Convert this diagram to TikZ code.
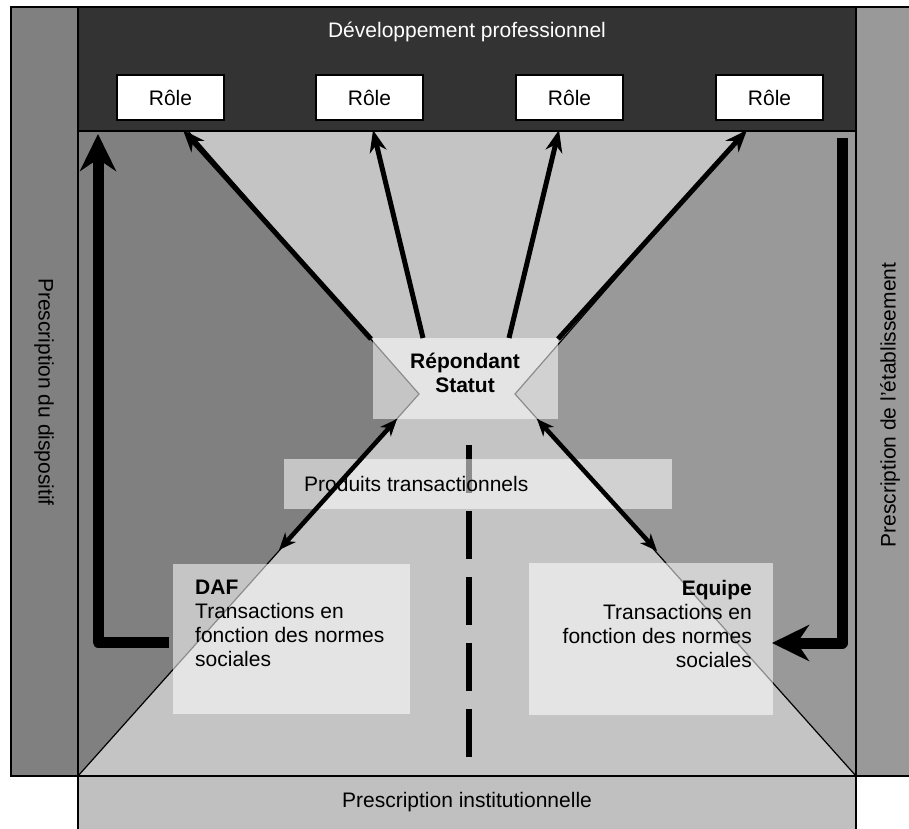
\documentclass[tikz,border=0pt]{standalone}
\usepackage{fontspec}
\setmainfont{Liberation Sans}
\usetikzlibrary{arrows.meta}
\definecolor{leftgray}{HTML}{808080}
\definecolor{rightgray}{HTML}{999999}
\definecolor{bandgray}{HTML}{333333}
\definecolor{lightgray}{HTML}{C4C4C4}
\definecolor{barlight}{HTML}{C0C0C0}
\begin{document}
\begin{tikzpicture}[x=1pt,y=-1pt,
  font=\fontsize{21}{24}\selectfont,
  frame/.style={draw=black, line width=1.3pt},
  role/.style={draw=black, line width=1.3pt, fill=white, minimum width=107pt, minimum height=45pt, inner sep=0pt, text height=15pt, text depth=0pt},
  tbox/.style={fill=white, fill opacity=0.55, text opacity=1, inner sep=0pt},
  thinarrow/.style={line width=5pt, -{Stealth[length=22pt,width=17pt,inset=7pt]}},
  twoarrow/.style={line width=4.5pt, {Stealth[length=17pt,width=14pt,inset=5pt]}-{Stealth[length=17pt,width=14pt,inset=5pt]}},
  thickarrow/.style={line width=11pt, line join=round, -{Stealth[length=37pt,width=36pt,inset=12pt]}},
  centerdash/.style={line width=6pt, dash pattern=on 48pt off 18pt}
]
\useasboundingbox (0,0) rectangle (909,828);
\fill[white] (0,0) rectangle (909,828);
% side bars
\draw[frame, fill=leftgray] (11,7) rectangle (78,776);
\draw[frame, fill=rightgray] (856,7) rectangle (914,776);
\node[rotate=-90] (lefttxt) at (44,392) {Prescription du dispositif};
\node[rotate=90] (righttxt) at (890,405) {Prescription de l’établissement};
% main area backgrounds
\fill[leftgray] (78,131) rectangle (467,776);
\fill[rightgray] (467,131) rectangle (856,776);
\coordinate (tl) at (188,131);
\coordinate (apL) at (419,394);
\coordinate (bl) at (78,776);
\coordinate (br) at (856,776);
\coordinate (apR) at (515,394);
\coordinate (tr) at (744,131);
\draw[fill=lightgray, line width=1.2pt] (tl) -- (apL) -- (bl) -- (br) -- (apR) -- (tr) -- cycle;
% centre dashed line
\coordinate (dtop) at (469,445);
\coordinate (dbot) at (469,776);
\draw[centerdash] (dtop) -- (dbot);
% top band
\draw[frame, fill=bandgray] (78,7) rectangle (856,131);
\node[anchor=base, text=white] (title) at (467,37) {Développement professionnel};
\node[role] (r1) at (170.5,97.5) {Rôle};
\node[role] (r2) at (369.5,97.5) {Rôle};
\node[role] (r3) at (569.5,97.5) {Rôle};
\node[role] (r4) at (769.5,97.5) {Rôle};
% bottom bar
\draw[frame, fill=barlight] (78,776) rectangle (856,832);
\node (inst) at (467,802) {Prescription institutionnelle};
% main frame
\draw[frame] (78,131) rectangle (856,776);
% translucent boxes
\node[tbox, minimum width=185pt, minimum height=81pt] (rep) at (465.5,378.5) {};
\node[font=\fontsize{21}{24}\selectfont\bfseries, align=center, anchor=north, inner sep=0pt] (reptxt) at (465,353) {Répondant\\Statut};
\node[tbox, minimum width=388pt, minimum height=50pt] (prod) at (478,484) {};
\node[anchor=base west, inner sep=0pt] (prodtxt) at (304,491) {Produits transactionnels};
\node[tbox, minimum width=237pt, minimum height=150pt] (daf) at (291.5,639) {};
\node[anchor=north west, align=left, inner sep=0pt] (daftxt) at (195,580) {\textbf{DAF}\\Transactions en\\fonction des normes\\sociales};
\node[tbox, minimum width=244pt, minimum height=152pt] (eq) at (651,639) {};
\node[anchor=north east, align=right, inner sep=0pt] (eqtxt) at (752,580) {\textbf{Equipe}\\Transactions en\\fonction des normes\\sociales};
% arrows to roles
\coordinate (s1) at (371,339);
\coordinate (s2) at (423,338);
\coordinate (s3) at (509,338);
\coordinate (s4) at (558,339);
\coordinate (e1) at (183,130);
\coordinate (e2) at (373,130);
\coordinate (e3) at (559,130);
\coordinate (e4) at (747,130);
\draw[thinarrow] (s1) -- (e1);
\draw[thinarrow] (s2) -- (e2);
\draw[thinarrow] (s3) -- (e3);
\draw[thinarrow] (s4) -- (e4);
% double arrows
\coordinate (u1) at (397,419);
\coordinate (d1) at (279,550);
\coordinate (u2) at (537,419);
\coordinate (d2) at (657,551);
\draw[twoarrow] (u1) -- (d1);
\draw[twoarrow] (u2) -- (d2);
% thick L arrows
\coordinate (la) at (169,642);
\coordinate (lc) at (98,642);
\coordinate (lt) at (98,134);
\draw[thickarrow] (la) -- (lc) -- (lt);
\coordinate (ra) at (842,138);
\coordinate (rc) at (842,643);
\coordinate (rt) at (772,643);
\draw[thickarrow] (ra) -- (rc) -- (rt);
\end{tikzpicture}
\end{document}
